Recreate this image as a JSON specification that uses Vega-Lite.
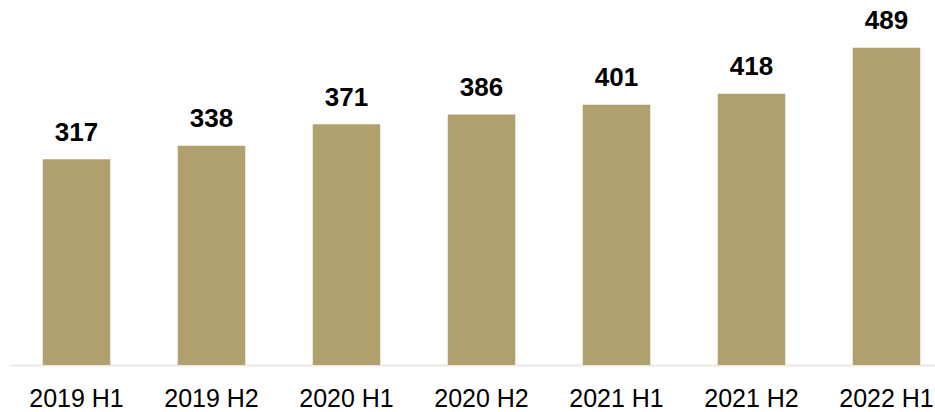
{
  "$schema": "https://vega.github.io/schema/vega-lite/v6.json",
  "width": 926,
  "height": 365,
  "autosize": {"type": "none"},
  "padding": {"left": 9, "top": 0, "right": 0, "bottom": 47},
  "background": "white",
  "config": {"view": {"stroke": null}, "font": "Liberation Sans"},
  "data": {
    "values": [
      {"period": "2019 H1", "value": 317},
      {"period": "2019 H2", "value": 338},
      {"period": "2020 H1", "value": 371},
      {"period": "2020 H2", "value": 386},
      {"period": "2021 H1", "value": 401},
      {"period": "2021 H2", "value": 418},
      {"period": "2022 H1", "value": 489}
    ]
  },
  "encoding": {
    "x": {
      "field": "period",
      "type": "nominal",
      "sort": null,
      "scale": {"range": [0, 945], "paddingInner": 0.5, "paddingOuter": 0.25},
      "axis": {
        "title": null,
        "labelAngle": 0,
        "labelFontSize": 25,
        "labelColor": "#000000",
        "labelFont": "Liberation Sans",
        "labelPadding": 21,
        "ticks": false,
        "domainColor": "#EDE8E2",
        "domainWidth": 2,
        "grid": false
      }
    },
    "y": {
      "field": "value",
      "type": "quantitative",
      "scale": {"domain": [0, 562.5], "nice": false},
      "axis": null
    }
  },
  "layer": [
    {"mark": {"type": "bar", "color": "#B0A06E"}},
    {
      "mark": {
        "type": "text",
        "fontSize": 26,
        "fontWeight": "bold",
        "font": "Liberation Sans",
        "color": "#000000",
        "baseline": "alphabetic",
        "dy": -18.5
      },
      "encoding": {"text": {"field": "value", "type": "quantitative"}}
    }
  ]
}
